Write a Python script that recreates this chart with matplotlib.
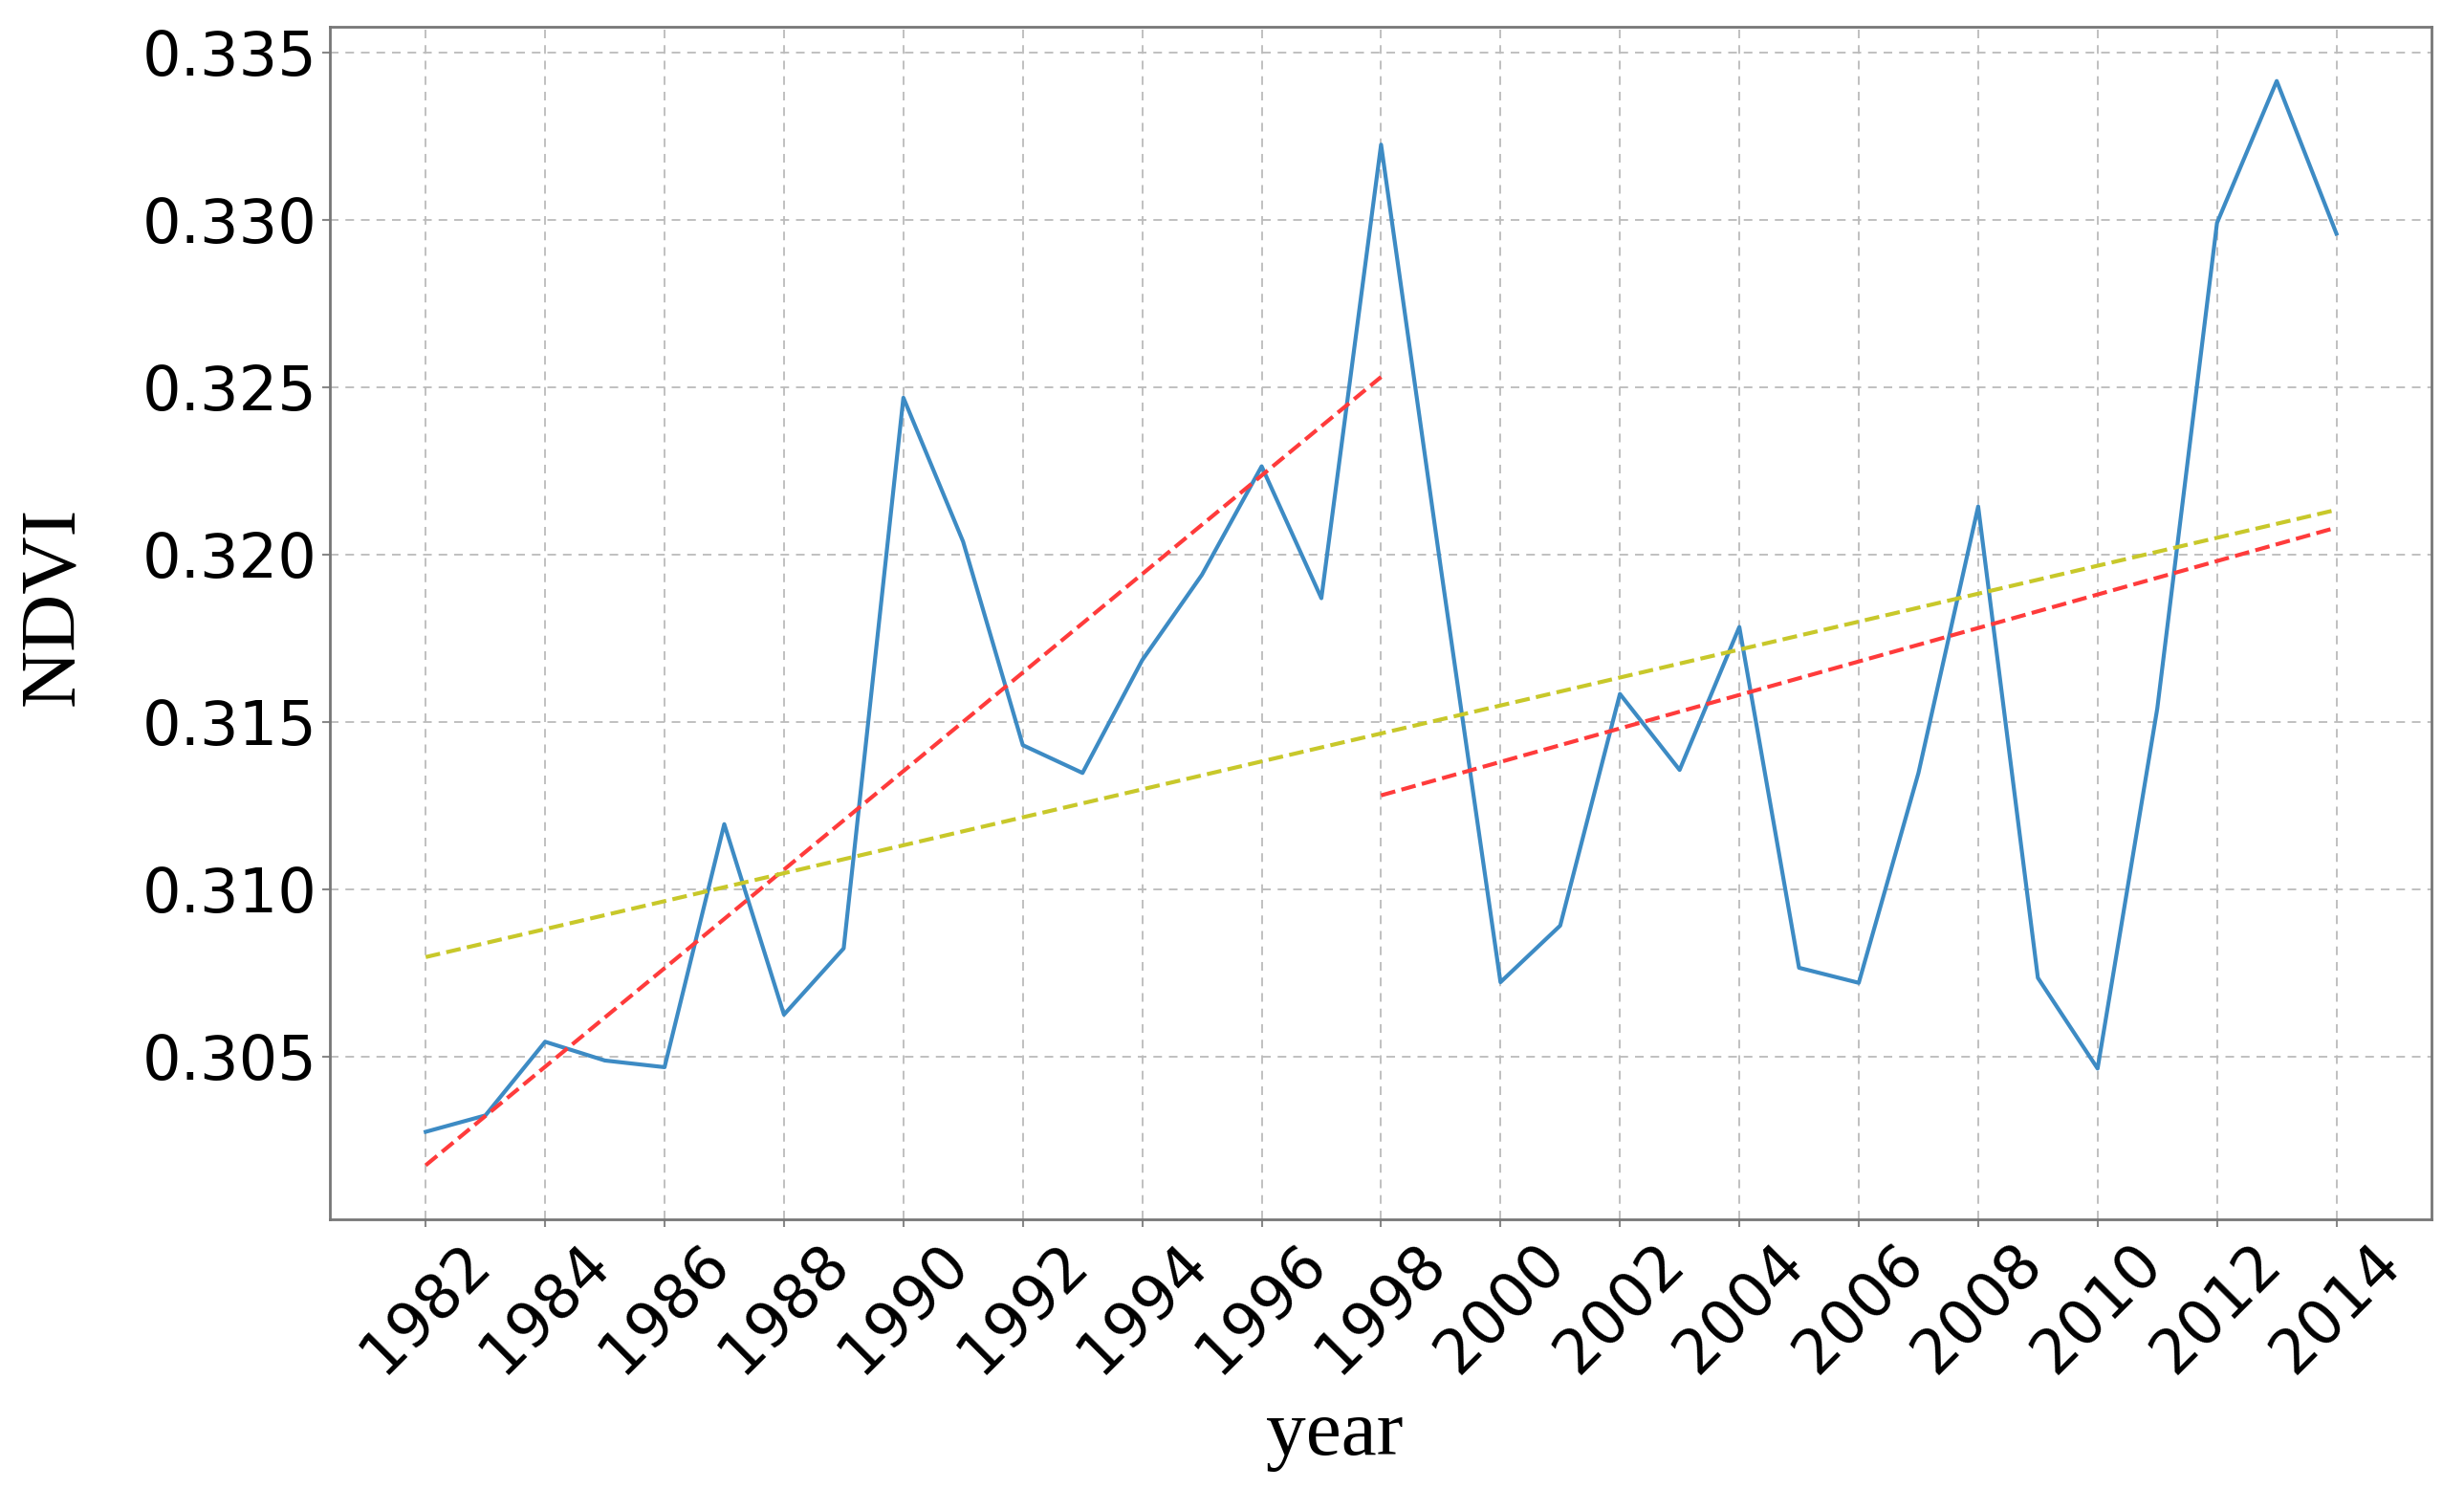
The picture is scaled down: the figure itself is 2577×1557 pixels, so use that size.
import numpy as np
import matplotlib
matplotlib.use('Agg')
import matplotlib.pyplot as plt

# NDVI yearly mean
years = list(range(1982, 2015))
ndvi = [0.30275, 0.30324, 0.30544, 0.30488, 0.30468, 0.31194, 0.30625, 0.30823,
        0.32468, 0.32038, 0.31430, 0.31347, 0.31684, 0.31939, 0.32263, 0.31869,
        0.33224, 0.31960, 0.30722, 0.30891, 0.31583, 0.31356, 0.31783, 0.30765,
        0.30720, 0.31347, 0.32143, 0.30735, 0.30464, 0.31540, 0.32990, 0.33414,
        0.32958]

# trend lines (start / end values)
trend_all_x = [1982, 2014]
trend_all_y = [0.30797, 0.32133]
trend_p1_x = [1982, 1998]
trend_p1_y = [0.30175, 0.32530]
trend_p2_x = [1998, 2014]
trend_p2_y = [0.31280, 0.32080]

xticks = list(range(1982, 2015, 2))

fig = plt.figure(figsize=(25.77, 15.57), dpi=100)
ax = fig.add_axes([0.134, 0.181, 0.853, 0.801])

ax.plot(years, ndvi, color='#3d8bc4', linewidth=3.0)
ax.plot(trend_p1_x, trend_p1_y, color='#ff3b3b', linestyle='--', linewidth=3.0)
ax.plot(trend_all_x, trend_all_y, color='#c8c82a', linestyle='--', linewidth=3.0)
ax.plot(trend_p2_x, trend_p2_y, color='#ff3b3b', linestyle='--', linewidth=3.0)

ax.set_xticks(xticks)
ax.set_xticklabels([str(y) for y in xticks], rotation=45)
ax.set_yticks([0.305, 0.310, 0.315, 0.320, 0.325, 0.330, 0.335])
ax.set_yticklabels(['0.305', '0.310', '0.315', '0.320', '0.325', '0.330', '0.335'])
ax.tick_params(axis='both', labelsize=46, length=6, width=1.5, color='#888888')

ax.grid(True, linestyle=(0, (5, 4)), color='#bbbbbb', linewidth=1.3)
for s in ax.spines.values():
    s.set_color('#777777')
    s.set_linewidth(2)

ax.set_xlabel('year', fontsize=60, family='Liberation Serif', labelpad=12)
ax.set_ylabel('NDVI', fontsize=60, family='Liberation Serif', labelpad=40)
ax.xaxis.label.set_x(0.478)
ax.yaxis.label.set_y(0.514)

fig.savefig('out.png', dpi=100)
